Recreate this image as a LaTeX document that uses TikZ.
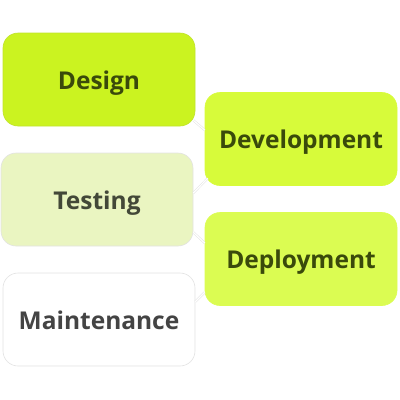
\documentclass[tikz,border=0pt]{standalone}
\usepackage{fontspec}
\setmainfont{Open Sans}
\definecolor{cDesign}{HTML}{CBF320}
\definecolor{cDev}{HTML}{D7FB3A}
\definecolor{cDep}{HTML}{DBFC52}
\definecolor{cTest}{HTML}{EAF5C1}
\definecolor{tOlive}{HTML}{3A4A0B}
\definecolor{tTest}{HTML}{434838}
\definecolor{tMaint}{HTML}{444444}
\definecolor{edgeGray}{HTML}{E2E2E2}
\begin{document}
\begin{tikzpicture}[x=1pt,y=-1pt,
  stagebox/.style={rounded corners=15pt, minimum width=192pt, minimum height=93pt,
    inner sep=0pt, text height=21pt, text depth=2pt,
    font=\fontsize{24.5}{28}\selectfont\bfseries, line width=0.6pt},
  link/.style={draw=edgeGray, line width=0.5pt, double=white, double distance=1.2pt}]
\useasboundingbox (0,0) rectangle (400,400);
\node[stagebox, fill=cDesign, draw=cDesign!85!gray, text=tOlive] (design) at (99,79.5) {Design};
\node[stagebox, fill=cDev, draw=cDev, text=tOlive] (dev) at (301,139) {Development};
\node[stagebox, fill=cTest, draw=edgeGray, text=tTest] (test) at (97,199.5) {Testing};
\node[stagebox, fill=cDep, draw=cDep, text=tOlive] (dep) at (301,259) {Deployment};
\node[stagebox, fill=white, draw=edgeGray, text=tMaint] (maint) at (99,319.5) {Maintenance};
\draw[link] ([xshift=-2pt,yshift=6pt]design.south east) -- ([yshift=9pt]dev.west);
\draw[link] ([yshift=6.5pt]test.east) -- ([xshift=3pt,yshift=7.5pt]dev.south west);
\draw[link] ([yshift=14pt]test.south east) -- ([yshift=16pt]dep.west);
\draw[link] ([yshift=-29pt]maint.north east) -- ([yshift=13.5pt]dep.south west);
\end{tikzpicture}
\end{document}
